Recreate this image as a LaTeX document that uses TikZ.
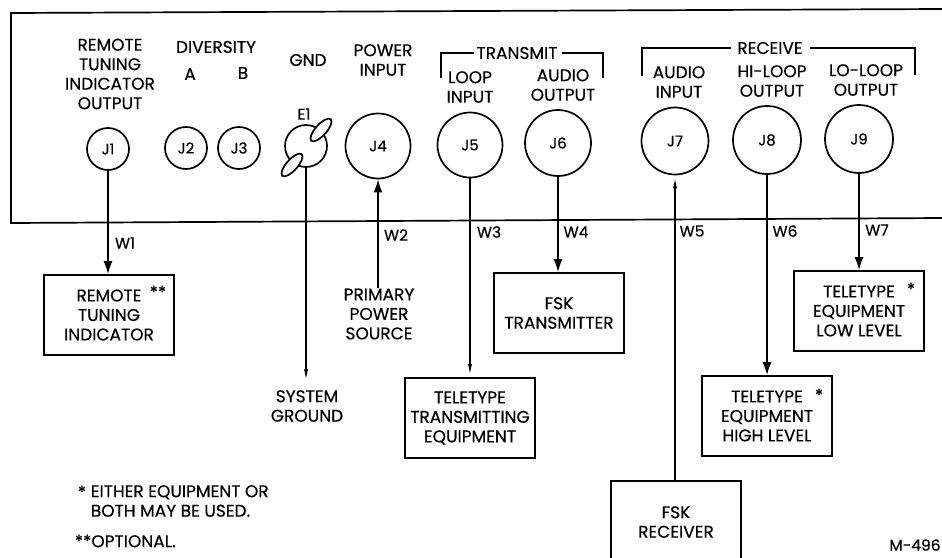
\documentclass[tikz,border=0pt]{standalone}
\usepackage{fontspec}
\setmainfont{Poppins}[FakeBold=0.35]
\usetikzlibrary{arrows.meta,shapes.geometric}

\begin{document}
\begin{tikzpicture}[x=1pt, y=-1pt, line width=1.7pt,
	every node/.style={font=\fontsize{17}{19.5}\selectfont, align=center, inner sep=0pt},
	jack/.style={circle, draw, font=\fontsize{15}{18}\selectfont},
	wirelbl/.style={font=\fontsize{15.5}{18}\selectfont},
	unitbox/.style={rectangle, draw, minimum width=130pt, minimum height=80pt},
	lug/.style={ellipse, draw, fill=white, rotate=48, minimum width=29pt, minimum height=11pt},
	cable/.style={-{Latex[length=13pt, width=9pt]}},
	faint/.style={-{Latex[length=13pt, width=4pt]}}]
	\clip (0,0) rectangle (942,557);
	% panel outline, open on the right
	\draw (942,9) -- (11,13) -- (11,223) -- (942,218);
	\foreach \n/\x/\y/\d in {J1/108/149/42, J2/186/148/42, J3/239/148/42, J4/378/146/65, J5/470/145/65, J6/558/143/66, J7/675/141/67, J8/767/140/68, J9/859/139/68} {
		\node[jack, minimum size=\d] (\n) at (\x,\y) {\n};
	}
	\node[jack, minimum size=42] (E1) at (306,146) {};
	\node[lug] (lugA) at (321,130) {};
	\node[lug] (lugB) at (292,165) {};
	\node[wirelbl] (E1txt) at (304,114) {E1};
	% front panel labels
	\node (lblJ1) at (110,74) {REMOTE\\TUNING\\INDICATOR\\OUTPUT};
	\node (lblDiv) at (216,47) {DIVERSITY};
	\node (lblA) at (190,74) {A};
	\node (lblB) at (243,73) {B};
	\node (lblGnd) at (308,60) {GND};
	\node (lblJ4) at (383,60) {POWER\\INPUT};
	\node (lblJ5) at (470,87) {LOOP\\INPUT};
	\node (lblJ6) at (563,85) {AUDIO\\OUTPUT};
	\node (lblJ7) at (679,82) {AUDIO\\INPUT};
	\node (lblJ8) at (772,81) {HI-LOOP\\OUTPUT};
	\node (lblJ9) at (866,80) {LO-LOOP\\OUTPUT};
	\node (transmit) at (517,53) {TRANSMIT};
	\node (receive) at (770,48) {RECEIVE};
	\coordinate (txL) at (441,78);
	\coordinate (txR) at (603,78);
	\coordinate (rxL) at (642,76);
	\coordinate (rxR) at (915,75);
	\draw (txL) |- ([xshift=-2pt]transmit.west);
	\draw (txR) |- ([xshift=4pt]transmit.east);
	\draw (rxL) |- ([xshift=-6pt]receive.west);
	\draw (rxR) |- ([xshift=6pt]receive.east);
	% external units
	\node[unitbox] (remote) at (109,315) {REMOTE\\TUNING\\INDICATOR};
	\node[unitbox] (ttx) at (470,418) {TELETYPE\\TRANSMITTING\\EQUIPMENT};
	\node[unitbox] (fsktx) at (559,313) {FSK\\TRANSMITTER};
	\node[unitbox] (ttlow) at (859,311) {TELETYPE\\EQUIPMENT\\LOW LEVEL};
	\node[unitbox] (tthigh) at (767,416) {TELETYPE\\EQUIPMENT\\HIGH LEVEL};
	\node[unitbox, minimum height=82pt] (fskrx) at (676,522) {FSK\\RECEIVER};
	\node (primary) at (379,314) {PRIMARY\\POWER\\SOURCE};
	\node[inner ysep=7pt] (sysgnd) at (307,406) {SYSTEM\\GROUND};
	% cables
	\draw[cable] (J1.south) -- (J1.south |- remote.north);
	\draw[faint] (E1.south) -- (E1.south |- sysgnd.north);
	\draw[cable] (J4.south |- primary.north) -- (J4.south);
	\draw[faint] (J5.south) -- (J5.south |- ttx.north);
	\draw[cable] (J6.south) -- (J6.south |- fsktx.north);
	\draw[faint] (J7.south |- fskrx.north) -- (J7.south);
	\draw[cable] (J8.south) -- (J8.south |- tthigh.north);
	\draw[cable] (J9.south) -- (J9.south |- ttlow.north);
	\foreach \n/\x/\y in {W1/125/243, W2/396/235, W3/489/232, W4/576/232, W5/692/231, W6/785/231, W7/877/230} {
		\node[wirelbl] (\n) at (\x,\y) {\n};
	}
	% notes
	\node (starR) at (158,292) {**};
	\node (starL) at (911,289) {*};
	\node (starH) at (819,395) {*};
	\node[anchor=west] (starN) at (77,492) {*};
	\node[anchor=west, align=left] (noteA) at (90,501) {EITHER EQUIPMENT OR\\BOTH MAY BE USED.};
	\node[anchor=west] (noteB) at (74,541) {**OPTIONAL.};
	\node[wirelbl] (drawno) at (915,545) {M-496};
\end{tikzpicture}
\end{document}
